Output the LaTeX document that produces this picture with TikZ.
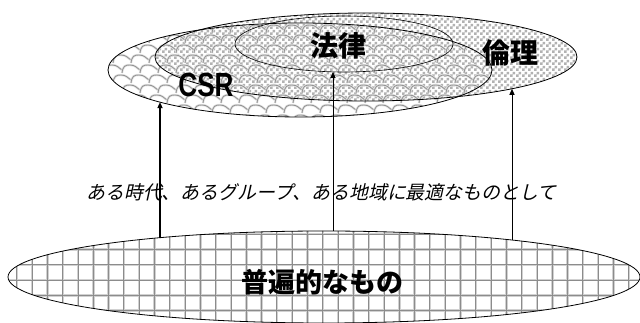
\documentclass[tikz,border=0pt]{standalone}
\usepackage{fontspec}
\usetikzlibrary{arrows.meta,shapes.geometric,patterns}
\newfontfamily\jp{Noto Sans CJK JP}
\newfontfamily\jpit{Noto Sans CJK JP}[FakeSlant=0.22]
\newfontfamily\csrfont{Liberation Sans}[FakeStretch=0.78]
\pgfdeclarepatternformonly{mychecker}{\pgfpointorigin}{\pgfqpoint{6pt}{6pt}}{\pgfqpoint{6pt}{6pt}}{%
  \pgfpathrectangle{\pgfpointorigin}{\pgfqpoint{3pt}{3pt}}%
  \pgfpathrectangle{\pgfqpoint{3pt}{3pt}}{\pgfqpoint{3pt}{3pt}}%
  \pgfusepath{fill}}
\tikzset{
  ell/.style={ellipse, inner sep=0pt, outer sep=0pt, draw=black, line width=0.8pt},
  gridunder/.style={draw=black!18, line width=2.4pt},
  gridover/.style={draw=black!45, line width=1.0pt},
  scaleunder/.style={draw=black!10, line width=2.4pt},
  scaleline/.style={draw=black!42, line width=0.9pt},
  label/.style={inner sep=0pt, text=black},
  upar/.style={-{Triangle[length=6pt,width=5pt]}, black}
}
\begin{document}
\begin{tikzpicture}[x=1pt,y=1pt]
\useasboundingbox (0,0) rectangle (640,323);
% grid inside the base ellipse
\begin{scope}
  \clip (324,46) ellipse [x radius=316, y radius=46];
  \foreach \i in {0,...,42} \draw[gridunder] (1.5+15.3*\i,-5) -- (1.5+15.3*\i,100);
  \foreach \j in {-1,...,5} \draw[gridunder] (-5,73.5-15.3*\j) -- (645,73.5-15.3*\j);
  \foreach \i in {0,...,42} \draw[gridover] (1.5+15.3*\i,-5) -- (1.5+15.3*\i,100);
  \foreach \j in {-1,...,5} \draw[gridover] (-5,73.5-15.3*\j) -- (645,73.5-15.3*\j);
\end{scope}
% checker inside the ethics ellipse
\fill[pattern=mychecker, pattern color=black!30] (366,266) ellipse [x radius=211, y radius=44];
% scales inside the CSR ellipse
\begin{scope}
  \clip (300,253) ellipse [x radius=192, y radius=47];
  \foreach \j in {0,...,10} {
    \pgfmathsetmacro\off{mod(\j,2)*9}
    \foreach \i in {0,...,23} {
      \draw[scaleunder] ({95+18*\i+\off},{200+10*\j}) .. controls +(1,7) and +(-5,0) .. +(8,8) .. controls +(5,0) and +(-3,2) .. +(18,3);
      \draw[scaleline] ({95+18*\i+\off},{200+10*\j}) .. controls +(1,7) and +(-5,0) .. +(8,8) .. controls +(5,0) and +(-3,2) .. +(18,3);
    }
  }
\end{scope}
% outlines
\node[ell, minimum width=632pt, minimum height=92pt] (base) at (324,46) {};
\node[ell, minimum width=422pt, minimum height=88pt] (rinri) at (366,266) {};
\node[ell, minimum width=384pt, minimum height=94pt] (csr) at (300,253) {};
\node[ell, line width=0.6pt, minimum width=218pt, minimum height=56pt] (houritsu) at (344,279) {};
% labels
\node[label, font=\csrfont\bfseries\fontsize{33.5}{36}\selectfont] (lcsr) at (206,238) {CSR};
\node[label, font=\jp\bfseries\fontsize{28}{30}\selectfont] (llaw) at (338,277) {法律};
\node[label, font=\jp\bfseries\fontsize{28}{30}\selectfont] (leth) at (510,270) {倫理};
\node[label, font=\jp\bfseries\fontsize{27}{29}\selectfont] (luni) at (322,41) {普遍的なもの};
\node[label, font=\jpit\fontsize{18.9}{20}\selectfont] (lmid) at (321.5,131) {ある時代、あるグループ、ある地域に最適なものとして};
% arrows
\coordinate (s1) at (160,85.3);  \coordinate (e1) at (160,220.9);
\coordinate (s2) at (333,92.0);  \coordinate (e2) at (333,251.1);
\coordinate (s3) at (512,83.0);  \coordinate (e3) at (512,234.2);
\draw[upar, line width=1.5pt] (s1) -- (e1);
\draw[upar, line width=0.8pt] (s2) -- (e2);
\draw[upar, line width=1pt] (s3) -- (e3);
\end{tikzpicture}
\end{document}
